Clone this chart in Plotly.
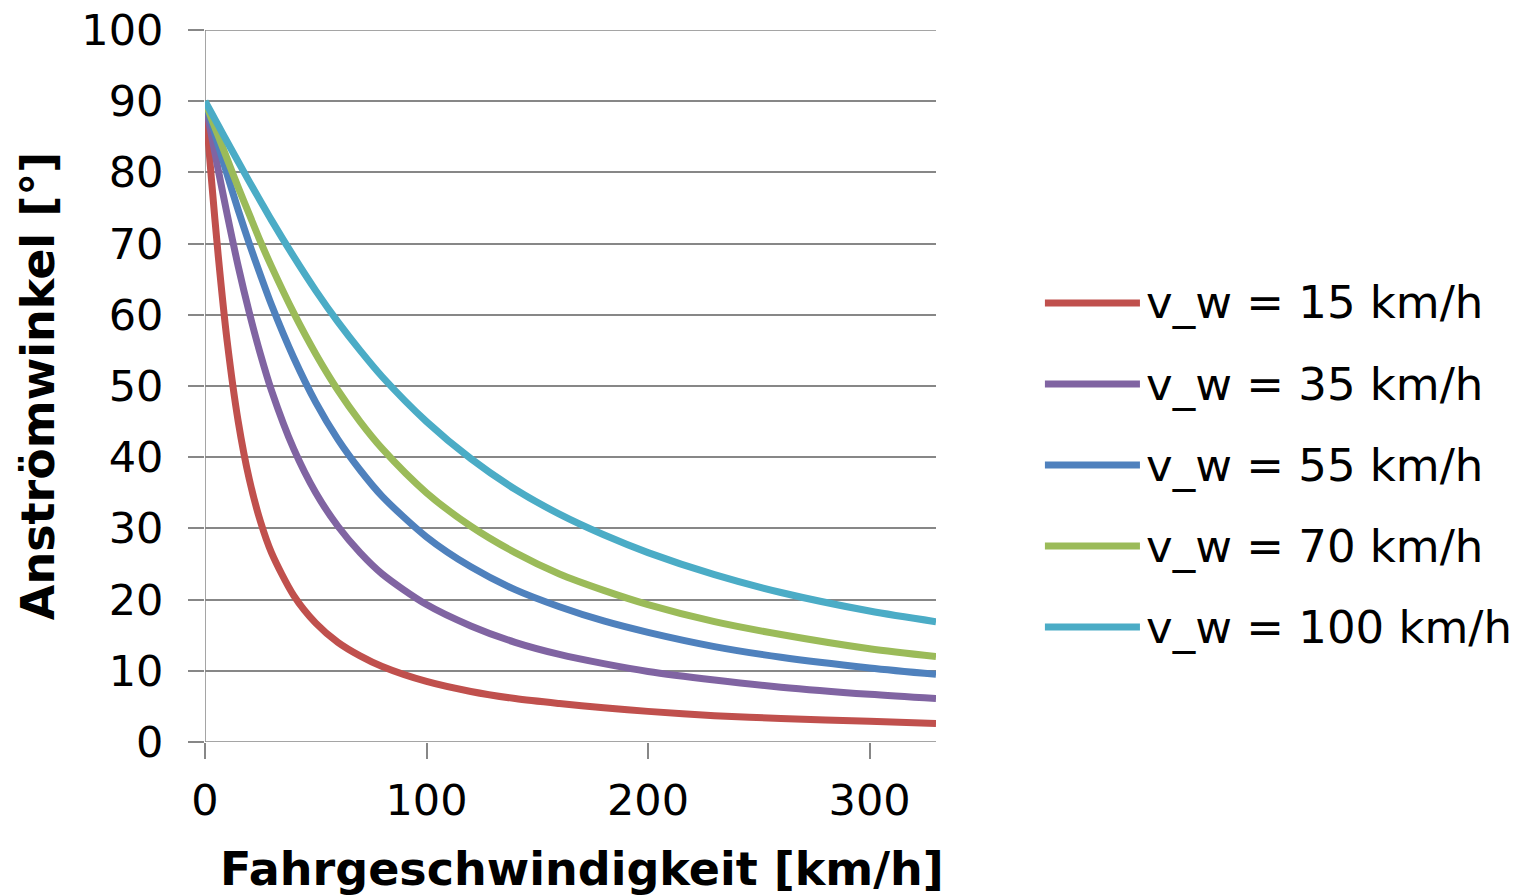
import plotly.graph_objects as go

# Fahrgeschwindigkeit [km/h]
speed = [0, 3, 6, 10, 15, 20, 25, 30, 40, 50, 60, 70, 80, 100, 120, 140,
         160, 180, 200, 230, 260, 300, 330]

# Anströmwinkel [°] for each wind speed
angle_15 = [90, 78.7, 68.2, 56.3, 45.0, 36.9, 31.0, 26.6, 20.6, 16.7, 14.0, 12.1,
            10.6, 8.5, 7.1, 6.1, 5.4, 4.8, 4.3, 3.7, 3.3, 2.9, 2.6]
angle_35 = [90, 85.1, 80.3, 74.1, 66.8, 60.3, 54.5, 49.4, 41.2, 35.0, 30.3, 26.6,
            23.6, 19.3, 16.3, 14.0, 12.3, 11.0, 9.9, 8.7, 7.7, 6.7, 6.1]
angle_55 = [90, 86.9, 83.8, 79.7, 74.7, 70.0, 65.6, 61.4, 54.0, 47.7, 42.5, 38.2,
            34.5, 28.8, 24.6, 21.4, 19.0, 17.0, 15.4, 13.4, 11.9, 10.4, 9.5]
angle_70 = [90, 87.5, 85.1, 81.9, 77.9, 74.1, 70.3, 66.8, 60.3, 54.5, 49.4, 45.0,
            41.2, 35.0, 30.3, 26.6, 23.6, 21.3, 19.3, 16.9, 15.1, 13.1, 12.0]
angle_100 = [90, 88.3, 86.6, 84.3, 81.5, 78.7, 76.0, 73.3, 68.2, 63.4, 59.0, 55.0,
             51.3, 45.0, 39.8, 35.5, 32.0, 29.1, 26.6, 23.5, 21.0, 18.4, 16.9]

series_names = ["v_w = 15 km/h", "v_w = 35 km/h", "v_w = 55 km/h",
                "v_w = 70 km/h", "v_w = 100 km/h"]
series_values = [angle_15, angle_35, angle_55, angle_70, angle_100]
colors = ["#C0504D", "#8064A2", "#4F81BD", "#9BBB59", "#4BACC6"]

x_ticks = [0, 100, 200, 300]
y_ticks = [0, 10, 20, 30, 40, 50, 60, 70, 80, 90, 100]

FONT = "DejaVu Sans"
GRID = "#878787"

fig = go.Figure()
for name, vals, col in zip(series_names, series_values, colors):
    fig.add_trace(go.Scatter(
        x=speed, y=vals, name=name, mode="lines",
        line=dict(color=col, width=7, shape="spline", smoothing=0.8),
        showlegend=False,
    ))

# Legend drawn beside the plot: a line sample and label per series
shapes = []
annotations = []
y0 = 0.6166
dy = 0.1138
for i, (name, col) in enumerate(zip(series_names, colors)):
    yy = y0 - i * dy
    shapes.append(dict(type="line", xref="paper", yref="paper",
                       x0=1.149, x1=1.279, y0=yy, y1=yy,
                       line=dict(color=col, width=7)))
    annotations.append(dict(xref="paper", yref="paper", x=1.285, y=yy,
                            xanchor="left", yanchor="middle", showarrow=False,
                            text=name, font=dict(family=FONT, size=45, color="#000000")))

# x-axis title placed below the tick labels
annotations.append(dict(xref="paper", yref="paper", x=0.516, y=-0.178,
                        xanchor="center", yanchor="middle", showarrow=False,
                        text="<b>Fahrgeschwindigkeit [km/h]</b>",
                        font=dict(family=FONT, size=46, color="#000000")))

fig.update_layout(
    width=1532, height=895,
    margin=dict(l=205, r=596, t=30, b=153),
    paper_bgcolor="white", plot_bgcolor="white",
    font=dict(family=FONT, color="#000000"),
    shapes=shapes, annotations=annotations,
    xaxis=dict(
        range=[0, 330], tickvals=x_ticks, ticktext=[str(v) for v in x_ticks],
        showgrid=False, zeroline=False, automargin=False,
        showline=False,
        ticks="outside", ticklen=16, tickwidth=1.5, tickcolor=GRID,
        tickfont=dict(family=FONT, size=43),
        ticklabelstandoff=4,
    ),
    yaxis=dict(
        range=[0, 100], tickvals=y_ticks, ticktext=[str(v) for v in y_ticks],
        showgrid=True, gridcolor=GRID, gridwidth=1.5,
        zeroline=False, showline=False, automargin=False,
        ticks="outside", ticklen=16, tickwidth=1.5, tickcolor=GRID,
        tickfont=dict(family=FONT, size=43),
        ticklabelstandoff=16,
        title=dict(text="<b>Anströmwinkel [°]</b>",
                   font=dict(family=FONT, size=46), standoff=12),
    ),
)

# Axis lines along x = 0 and y = 0, plus the top gridline at 100
fig.add_vline(x=0, line=dict(color=GRID, width=1.5), layer="below")
fig.add_hline(y=0, line=dict(color=GRID, width=1.5), layer="below")
fig.add_hline(y=100, line=dict(color=GRID, width=1.5), layer="below")

fig.write_html("out.html")
